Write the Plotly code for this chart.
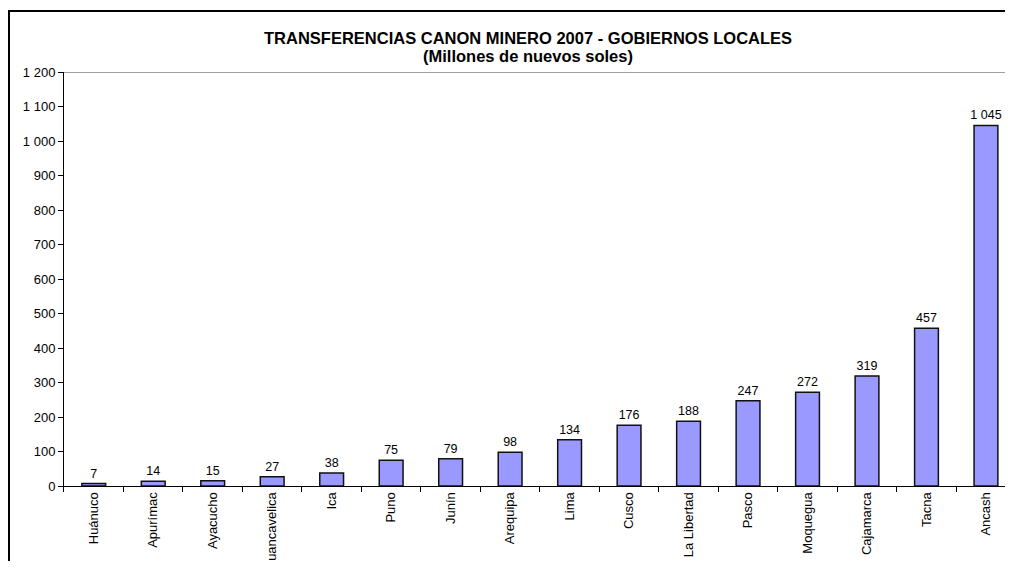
import plotly.graph_objects as go

departamentos = ['Huánuco', 'Apurímac', 'Ayacucho', 'Huancavelica', 'Ica', 'Puno', 'Junín',
                 'Arequipa', 'Lima', 'Cusco', 'La Libertad', 'Pasco', 'Moquegua',
                 'Cajamarca', 'Tacna', 'Ancash']
canon = [7, 14, 15, 27, 38, 75, 79, 98, 134, 176, 188, 247, 272, 319, 457, 1045]
y_ticks = list(range(0, 1201, 100))

fig = go.Figure()

fig.add_trace(go.Bar(
    x=departamentos,
    y=canon,
    width=0.4,
    marker=dict(color='#9999FF', line=dict(color='#111111', width=1.5)),
    texttemplate='%{y:,}',
    textposition='outside',
    constraintext='none',
    textfont=dict(size=12.5, color='black'),
    cliponaxis=False,
))

# empty trace so the frame axes (x2/y2) get drawn
fig.add_trace(go.Scatter(x=[], y=[], xaxis='x2', yaxis='y2', hoverinfo='skip'))

# top border of plot area
fig.add_shape(type='line', xref='x domain', yref='y', x0=0, x1=1, y0=1200, y1=1200,
              line=dict(color='#808080', width=1.5))

# Title lines
fig.add_annotation(text='<b>TRANSFERENCIAS CANON MINERO 2007 - GOBIERNOS LOCALES</b>',
                   xref='paper', yref='paper', x=0.5206, y=0.9526,
                   xanchor='center', yanchor='middle', showarrow=False,
                   font=dict(size=16.5, color='black'))
fig.add_annotation(text='<b>(Millones de nuevos soles)</b>',
                   xref='paper', yref='paper', x=0.5206, y=0.9199,
                   xanchor='center', yanchor='middle', showarrow=False,
                   font=dict(size=16.5, color='black'))

fig.update_layout(
    width=997,
    height=553,
    margin=dict(l=2, r=0, t=4, b=0),
    paper_bgcolor='white',
    plot_bgcolor='rgba(0,0,0,0)',
    separators=', ',
    font=dict(family='Liberation Sans, Arial, sans-serif', size=13, color='black'),
    showlegend=False,
    xaxis=dict(
        type='category',
        domain=[0.05427, 1],
        range=[-0.5, 15.32],
        tickangle=-90,
        ticks='outside', tickson='boundaries', ticklen=5, tickcolor='black',
        showline=True, linecolor='black', linewidth=1,
        showgrid=False,
        automargin=False,
        tickfont=dict(size=13),
    ),
    yaxis=dict(
        domain=[0.1366, 0.8907],
        range=[0, 1200],
        tickvals=y_ticks,
        tickformat=',',
        ticks='outside', ticklen=5, tickcolor='black',
        showline=True, linecolor='black', linewidth=1,
        showgrid=False,
        zeroline=False,
        automargin=False,
        tickfont=dict(size=13),
    ),
    # outer chart frame: left and top edges
    xaxis2=dict(
        domain=[0, 1], anchor='y2', side='top', range=[0, 1],
        showline=True, linecolor='black', linewidth=1.5,
        showgrid=False, zeroline=False, showticklabels=False, ticks='',
        fixedrange=True,
    ),
    yaxis2=dict(
        domain=[0, 1], anchor='x2', side='left', range=[0, 1],
        showline=True, linecolor='black', linewidth=1.5,
        showgrid=False, zeroline=False, showticklabels=False, ticks='',
        fixedrange=True,
    ),
)

fig.write_html('out.html')
